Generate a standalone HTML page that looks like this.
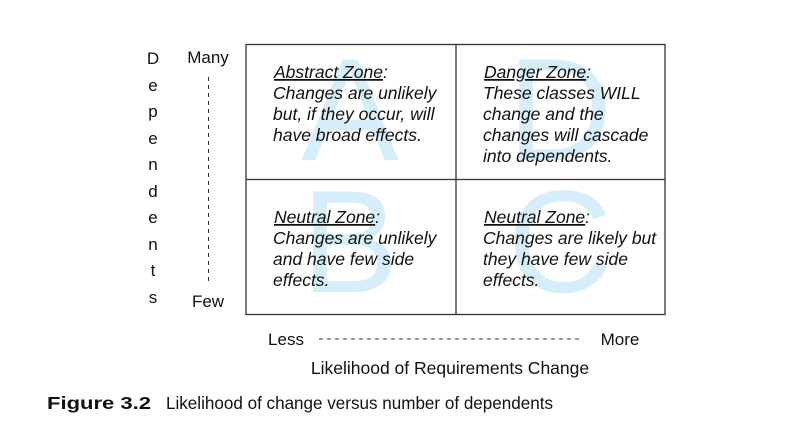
<!DOCTYPE html>
<html><head><meta charset="utf-8"><style>
html,body{margin:0;padding:0;background:#fff;}
svg{display:block;}
</style></head><body>
<svg width="806" height="434" xmlns="http://www.w3.org/2000/svg" font-family="Liberation Sans, Arial, sans-serif">
<g fill="#d6eefa" font-size="146" text-anchor="middle" font-family="Liberation Sans, sans-serif">
<text x="350" y="160">A</text>
<text x="560" y="160">D</text>
<text x="350" y="292">B</text>
<text x="560" y="292">C</text>
</g>
<g fill="none" stroke="#333" stroke-width="1.3">
<rect x="246" y="44.5" width="419" height="270"/>
<line x1="456" y1="44.5" x2="456" y2="314.5"/>
<line x1="246" y1="179.5" x2="665" y2="179.5"/>
</g>
<g stroke="#333" stroke-width="1" stroke-dasharray="4,4">
<line x1="208.5" y1="77" x2="208.5" y2="284"/>
<line x1="319" y1="339" x2="583" y2="339"/>
</g>
<g font-size="17" fill="#111" text-anchor="middle">
<text x="153" y="64">D</text>
<text x="153" y="91">e</text>
<text x="153" y="117">p</text>
<text x="153" y="144">e</text>
<text x="153" y="170">n</text>
<text x="153" y="197">d</text>
<text x="153" y="223">e</text>
<text x="153" y="250">n</text>
<text x="153" y="276">t</text>
<text x="153" y="303">s</text>
<text x="208" y="63">Many</text>
<text x="208" y="307">Few</text>
<text x="286" y="345">Less</text>
<text x="620" y="345">More</text>
<text x="450" y="374" font-size="17.5">Likelihood of Requirements Change</text>
</g>
<g font-size="17.5" font-style="italic" fill="#111">
<text x="274" y="78"><tspan text-decoration="underline">Abstract Zone</tspan>:</text>
<text x="273" y="99">Changes are unlikely</text>
<text x="273" y="120">but, if they occur, will</text>
<text x="273" y="141">have broad effects.</text>
<text x="484" y="78"><tspan text-decoration="underline">Danger Zone</tspan>:</text>
<text x="483" y="99">These classes WILL</text>
<text x="483" y="120">change and the</text>
<text x="483" y="141">changes will cascade</text>
<text x="483" y="162">into dependents.</text>
<text x="274" y="223"><tspan text-decoration="underline">Neutral Zone</tspan>:</text>
<text x="273" y="244">Changes are unlikely</text>
<text x="273" y="265">and have few side</text>
<text x="273" y="286">effects.</text>
<text x="484" y="223"><tspan text-decoration="underline">Neutral Zone</tspan>:</text>
<text x="483" y="244">Changes are likely but</text>
<text x="483" y="265">they have few side</text>
<text x="483" y="286">effects.</text>
</g>
<text x="47" y="409" font-size="17.5" fill="#111" font-weight="bold" textLength="104" lengthAdjust="spacingAndGlyphs">Figure 3.2</text>
<text x="166" y="409" font-size="17.5" fill="#111" textLength="387" lengthAdjust="spacingAndGlyphs">Likelihood of change versus number of dependents</text>
</svg>
</body></html>
